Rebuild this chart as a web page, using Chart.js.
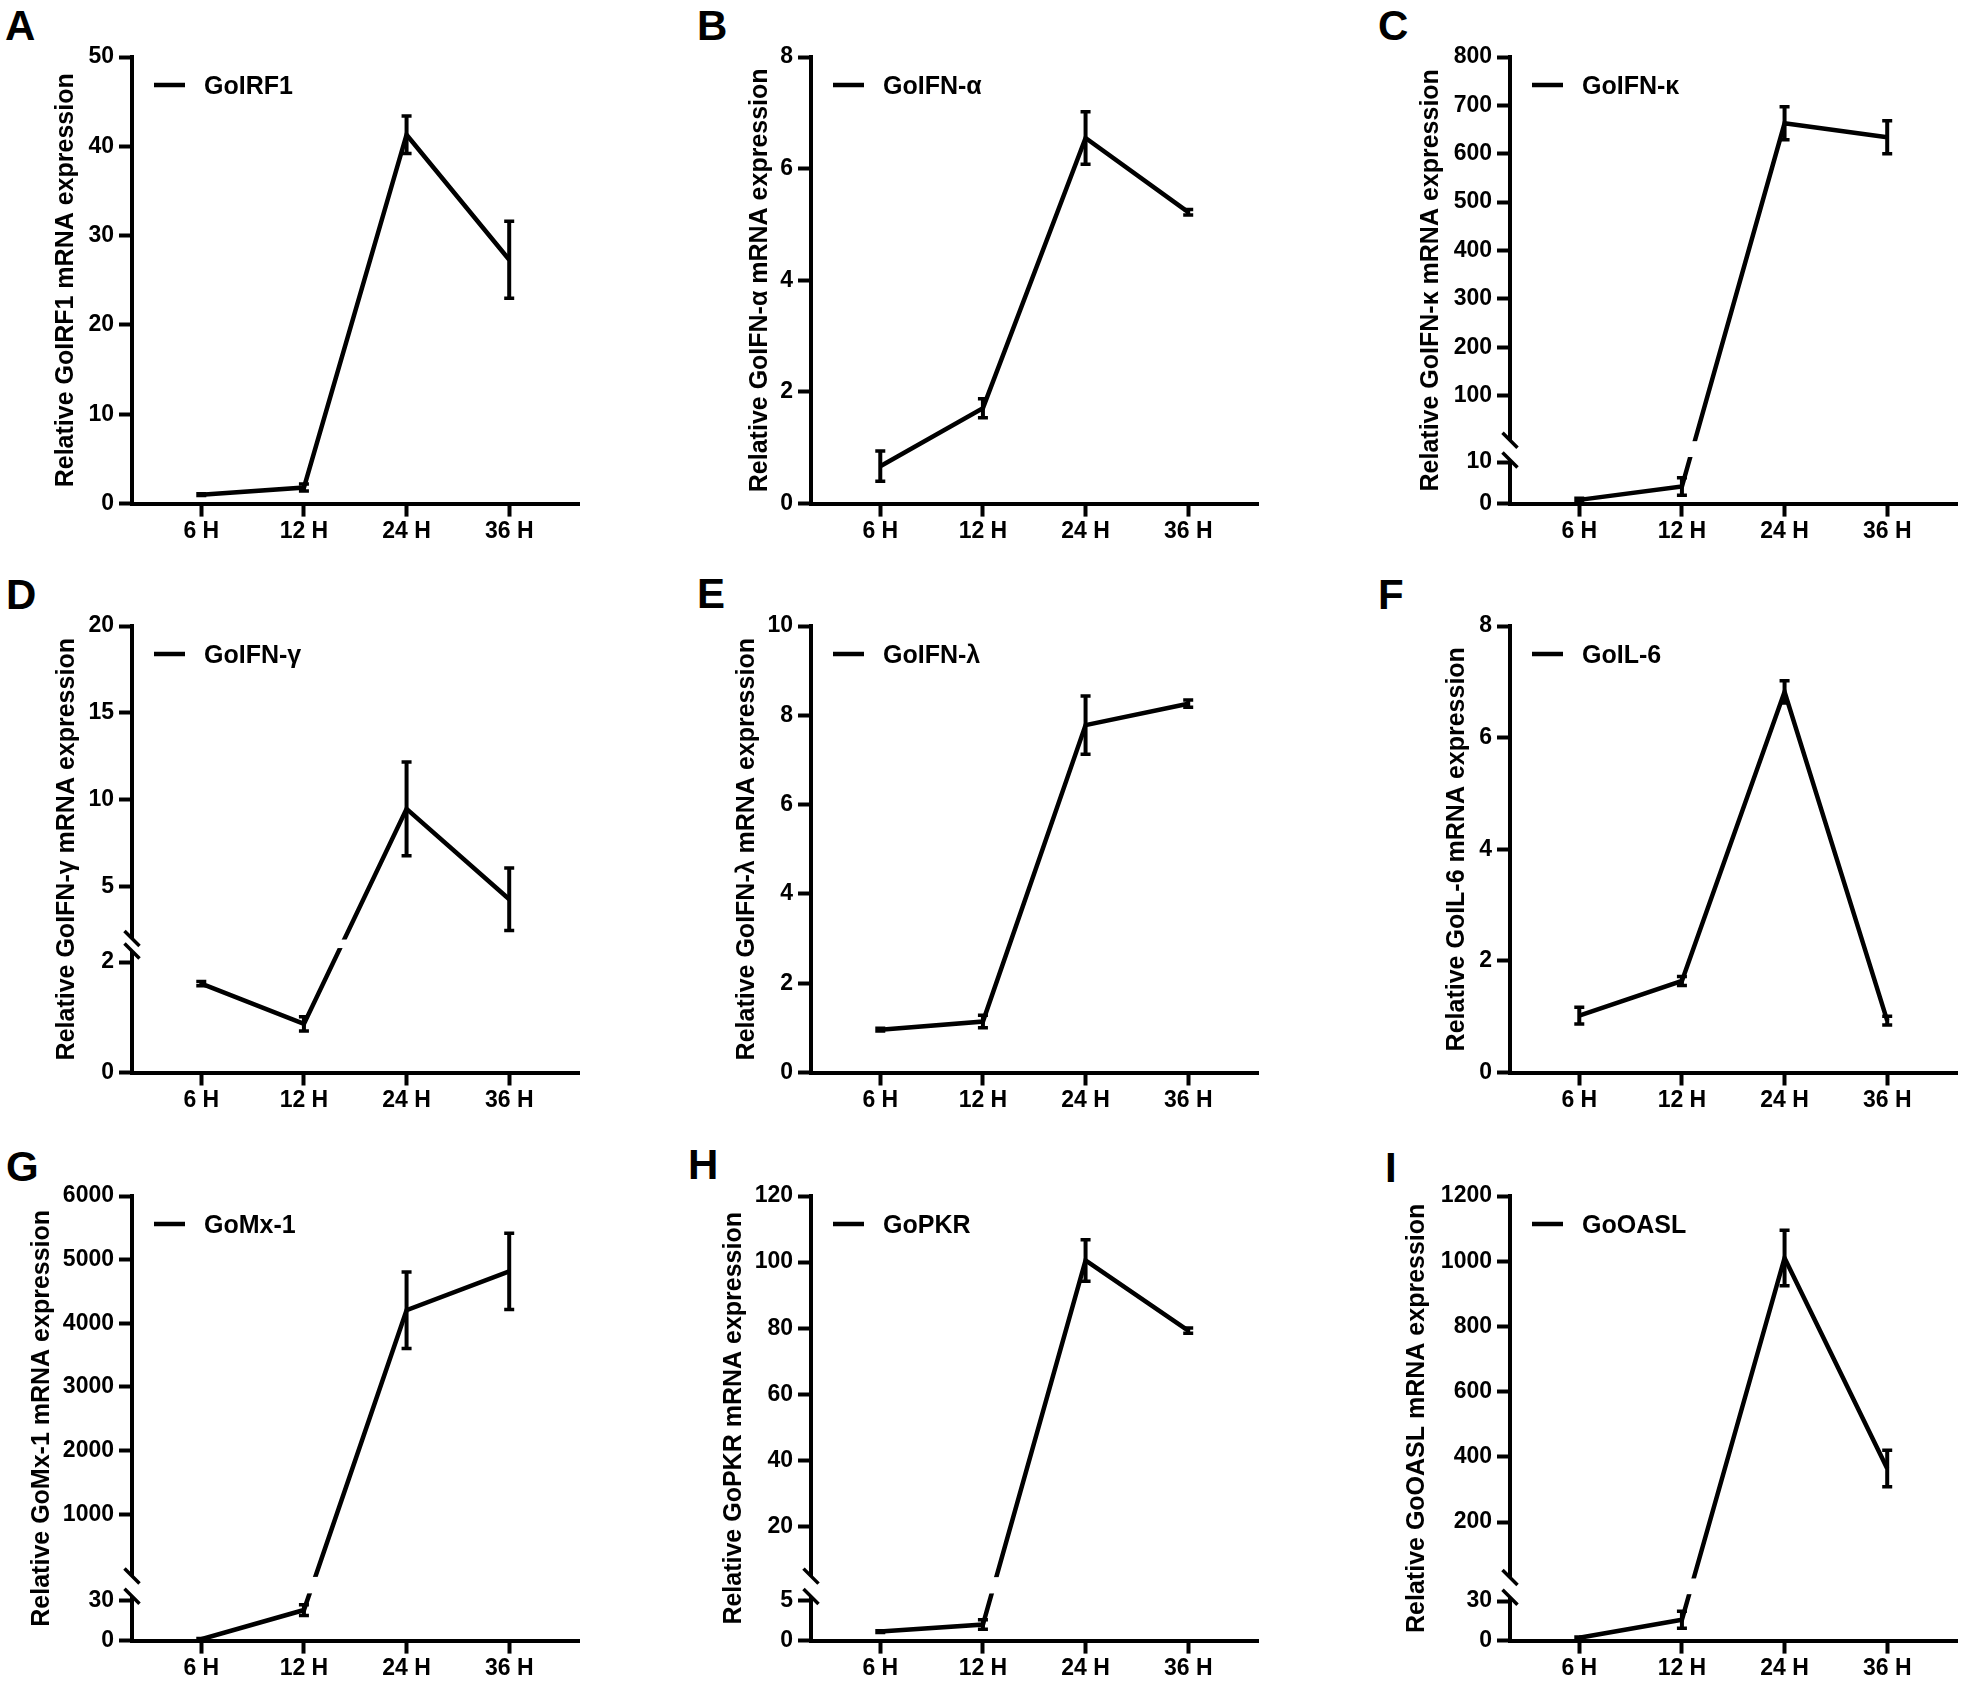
<!DOCTYPE html>
<html>
<head>
<meta charset="utf-8">
<script src="https://cdn.jsdelivr.net/npm/chart.js@4.4.1/dist/chart.umd.min.js"></script>
<style>
  body { margin: 0; background: #fff; }
  #fig { position: relative; width: 1964px; height: 1683px; overflow: hidden; background: #fff; }
  #fig canvas { position: absolute; }
  .tag { position: absolute; font: bold 42px "Liberation Sans", Arial, sans-serif; line-height: 42px; color: #000; }
</style>
</head>
<body>
<div id="fig"></div>
<script>
// sampling times (x axis)
const timeLabels = ["6 H", "12 H", "24 H", "36 H"];

// relative mRNA expression, mean and error
const irf1Mean = [1.0, 1.8, 41.3, 27.3];
const irf1Err = [0.1, 0.4, 2.1, 4.3];
const ifnaMean = [0.67, 1.71, 6.55, 5.22];
const ifnaErr = [0.27, 0.17, 0.47, 0.05];
const ifnkMean = [0.9, 4.1, 663, 634];
const ifnkErr = [0.4, 2.1, 34, 34];
const ifngMean = [1.61, 0.88, 9.47, 4.26];
const ifngErr = [0.04, 0.13, 2.7, 1.8];
const ifnlMean = [0.96, 1.14, 7.78, 8.26];
const ifnlErr = [0.03, 0.14, 0.65, 0.08];
const il6Mean = [1.02, 1.64, 6.82, 0.93];
const il6Err = [0.15, 0.08, 0.2, 0.08];
const mx1Mean = [1, 22.8, 4205, 4815];
const mx1Err = [0.5, 4, 600, 600];
const pkrMean = [1.12, 2.0, 100.5, 79.3];
const pkrErr = [0.1, 0.6, 6.3, 0.8];
const oaslMean = [2.2, 15.8, 1010, 364];
const oaslErr = [0.5, 6.5, 85, 56];

// y tick labels
const irf1Ticks = [0, 10, 20, 30, 40, 50];
const ifnaTicks = [0, 2, 4, 6, 8];
const ifnkTicks = [0, 10, 100, 200, 300, 400, 500, 600, 700, 800];
const ifngTicks = [0, 2, 5, 10, 15, 20];
const ifnlTicks = [0, 2, 4, 6, 8, 10];
const il6Ticks = [0, 2, 4, 6, 8];
const mx1Ticks = [0, 30, 1000, 2000, 3000, 4000, 5000, 6000];
const pkrTicks = [0, 5, 20, 40, 60, 80, 100, 120];
const oaslTicks = [0, 30, 200, 400, 600, 800, 1000, 1200];

const panels = [
  { tag: "A", name: "GoIRF1", mean: irf1Mean, err: irf1Err, ticks: irf1Ticks, yMax: 50 },
  { tag: "B", name: "GoIFN-α", mean: ifnaMean, err: ifnaErr, ticks: ifnaTicks, yMax: 8 },
  { tag: "C", name: "GoIFN-κ", mean: ifnkMean, err: ifnkErr, ticks: ifnkTicks, yMax: 800,
    brk: { lowMax: 10.5, lowFrac: 0.0976, highMin: 8, highFrac: 0.142 } },
  { tag: "D", name: "GoIFN-γ", mean: ifngMean, err: ifngErr, ticks: ifngTicks, yMax: 20,
    brk: { lowMax: 2.2, lowFrac: 0.272, highMin: 2, highFrac: 0.3 } },
  { tag: "E", name: "GoIFN-λ", mean: ifnlMean, err: ifnlErr, ticks: ifnlTicks, yMax: 10 },
  { tag: "F", name: "GoIL-6", mean: il6Mean, err: il6Err, ticks: il6Ticks, yMax: 8 },
  { tag: "G", name: "GoMx-1", mean: mx1Mean, err: mx1Err, ticks: mx1Ticks, yMax: 6000,
    brk: { lowMax: 33, lowFrac: 0.0995, highMin: 30, highFrac: 0.1455 } },
  { tag: "H", name: "GoPKR", mean: pkrMean, err: pkrErr, ticks: pkrTicks, yMax: 120,
    brk: { lowMax: 5.5, lowFrac: 0.0993, highMin: 5, highFrac: 0.145 } },
  { tag: "I", name: "GoOASL", mean: oaslMean, err: oaslErr, ticks: oaslTicks, yMax: 1200,
    brk: { lowMax: 33, lowFrac: 0.0977, highMin: 30, highFrac: 0.142 } }
];

// page layout (px)
const axisX = [132, 811, 1510];
const rowTop = [57, 626, 1196];
const plotH = [446.6, 446.5, 444.6];
const titleOff = [66, 51, 79, 65, 64, 53, 90, 77, 93];
const tagPos = [[5, 10], [697, 10], [1378, 10], [6, 579], [697, 578], [1378, 579], [6, 1151], [688, 1149], [1385, 1152]];
const YW = 140, CW = 595, CH = 560, PADTOP = 60;
const FONT = '"Liberation Sans", Arial, sans-serif';

Chart.defaults.font.family = FONT;
Chart.defaults.font.weight = "bold";
Chart.defaults.color = "#000";

// linear scale with an optional axis break (two linear pieces)
class BrokenScale extends Chart.LinearScale {
  static id = "broken";
  toFrac(v) {
    const b = this.options.brk;
    if (!b) return (v - this.min) / (this.max - this.min);
    if (v <= b.lowMax) return v / b.lowMax * b.lowFrac;
    if (v >= b.highMin) return b.highFrac + (v - b.highMin) / (this.max - b.highMin) * (1 - b.highFrac);
    return b.lowFrac + (v - b.lowMax) / (b.highMin - b.lowMax) * (b.highFrac - b.lowFrac);
  }
  getPixelForValue(v) {
    return this.getPixelForDecimal(this.toFrac(v));
  }
}
Chart.register(BrokenScale);

// y axis line, break gap and slashes
const prismAxes = {
  id: "prismAxes",
  afterDatasetsDraw(chart) {
    const { ctx, chartArea } = chart;
    const ys = chart.scales.y;
    const b = ys.options.brk;
    const x = chartArea.left;
    ctx.save();
    ctx.strokeStyle = "#000";
    ctx.lineWidth = 4;
    ctx.lineCap = "butt";
    if (b) {
      const yLow = ys.getPixelForDecimal(b.lowFrac);
      const yHigh = ys.getPixelForDecimal(b.highFrac);
      ctx.fillStyle = "#fff";
      ctx.fillRect(x + 3, yHigh + 1, chartArea.width, yLow - yHigh - 4);
      ctx.beginPath();
      ctx.moveTo(x, chartArea.bottom + 2); ctx.lineTo(x, yLow);
      ctx.moveTo(x, yHigh); ctx.lineTo(x, chartArea.top - 2);
      ctx.stroke();
      ctx.lineWidth = 3.5;
      ctx.beginPath();
      [yLow, yHigh].forEach(y => { ctx.moveTo(x - 7.5, y - 7.5); ctx.lineTo(x + 7.5, y + 7.5); });
      ctx.stroke();
    } else {
      ctx.beginPath();
      ctx.moveTo(x, chartArea.bottom + 2); ctx.lineTo(x, chartArea.top - 2);
      ctx.stroke();
    }
    ctx.restore();
  }
};

const errorBars = {
  id: "errorBars",
  afterDatasetsDraw(chart) {
    const { ctx } = chart;
    const xs = chart.scales.x, ys = chart.scales.y;
    const ds = chart.data.datasets[0];
    ctx.save();
    ctx.strokeStyle = "#000";
    ds.data.forEach((pt, i) => {
      const e = ds.errorBars[i];
      const px = xs.getPixelForValue(pt.x);
      const yt = ys.getPixelForValue(pt.y + e);
      const yb = ys.getPixelForValue(Math.max(0, pt.y - e));
      ctx.lineWidth = 4;
      ctx.beginPath(); ctx.moveTo(px, yt); ctx.lineTo(px, yb); ctx.stroke();
      ctx.lineWidth = 3.5;
      ctx.beginPath();
      ctx.moveTo(px - 5, yt); ctx.lineTo(px + 5, yt);
      ctx.moveTo(px - 5, yb); ctx.lineTo(px + 5, yb);
      ctx.stroke();
    });
    ctx.restore();
  }
};

const legendLine = {
  id: "legendLine",
  afterDraw(chart) {
    const { ctx, chartArea } = chart;
    const y = chartArea.top + 28;
    ctx.save();
    ctx.strokeStyle = "#000";
    ctx.lineWidth = 4.5;
    ctx.beginPath(); ctx.moveTo(chartArea.left + 22, y); ctx.lineTo(chartArea.left + 53, y); ctx.stroke();
    ctx.font = "bold 25px " + FONT;
    ctx.fillStyle = "#000";
    ctx.textBaseline = "alphabetic";
    ctx.fillText(chart.data.datasets[0].label, chartArea.left + 72, y + 9);
    ctx.restore();
  }
};

const fig = document.getElementById("fig");

panels.forEach((p, i) => {
  const col = i % 3, row = Math.floor(i / 3);

  const tag = document.createElement("div");
  tag.className = "tag";
  tag.textContent = p.tag;
  tag.style.left = tagPos[i][0] + "px";
  tag.style.top = (tagPos[i][1] - 5) + "px";
  fig.appendChild(tag);

  const cv = document.createElement("canvas");
  cv.width = CW; cv.height = CH;
  cv.style.left = (axisX[col] - YW) + "px";
  cv.style.top = (rowTop[row] - PADTOP) + "px";
  fig.appendChild(cv);

  new Chart(cv, {
    type: "line",
    data: {
      datasets: [{
        label: p.name,
        data: p.mean.map((v, k) => ({ x: k, y: v })),
        errorBars: p.err,
        borderColor: "#000",
        borderWidth: 4.5,
        borderJoinStyle: "miter",
        pointRadius: 0,
        fill: false,
        tension: 0
      }]
    },
    options: {
      responsive: false,
      devicePixelRatio: 1,
      animation: false,
      layout: { padding: { top: PADTOP, left: 0, right: CW - YW - 447, bottom: CH - PADTOP - plotH[row] - 50 } },
      plugins: { legend: { display: false }, tooltip: { enabled: false } },
      scales: {
        x: {
          type: "linear", min: -0.675, max: 3.68,
          afterBuildTicks: s => { s.ticks = timeLabels.map((_, k) => ({ value: k })); },
          afterFit: s => { s.height = 50; s.paddingLeft = 0; s.paddingRight = 0; },
          grid: { drawOnChartArea: false, tickLength: 13, tickWidth: 4, tickColor: "#000" },
          border: { display: true, width: 4, color: "#000" },
          ticks: { autoSkip: false, maxRotation: 0, padding: 1, font: { size: 23, weight: "bold" }, color: "#000",
                   callback: v => timeLabels[v] }
        },
        y: {
          type: "broken", min: 0, max: p.yMax, brk: p.brk || null,
          afterBuildTicks: s => { s.ticks = p.ticks.map(v => ({ value: v })); },
          afterFit: s => { s.width = YW; s.paddingTop = 0; s.paddingBottom = 0; },
          grid: { drawOnChartArea: false, tickLength: 13, tickWidth: 4, tickColor: "#000" },
          border: { display: false },
          ticks: { autoSkip: false, padding: 5, font: { size: 23, weight: "bold" }, color: "#000",
                   callback: v => String(v) },
          title: {
            display: true,
            text: "Relative " + p.name + " mRNA expression",
            font: { size: 25, weight: "bold" },
            color: "#000",
            padding: { top: YW - titleOff[i] - 15, bottom: 0 }
          }
        }
      }
    },
    plugins: [prismAxes, errorBars, legendLine]
  });
});
</script>
</body>
</html>
